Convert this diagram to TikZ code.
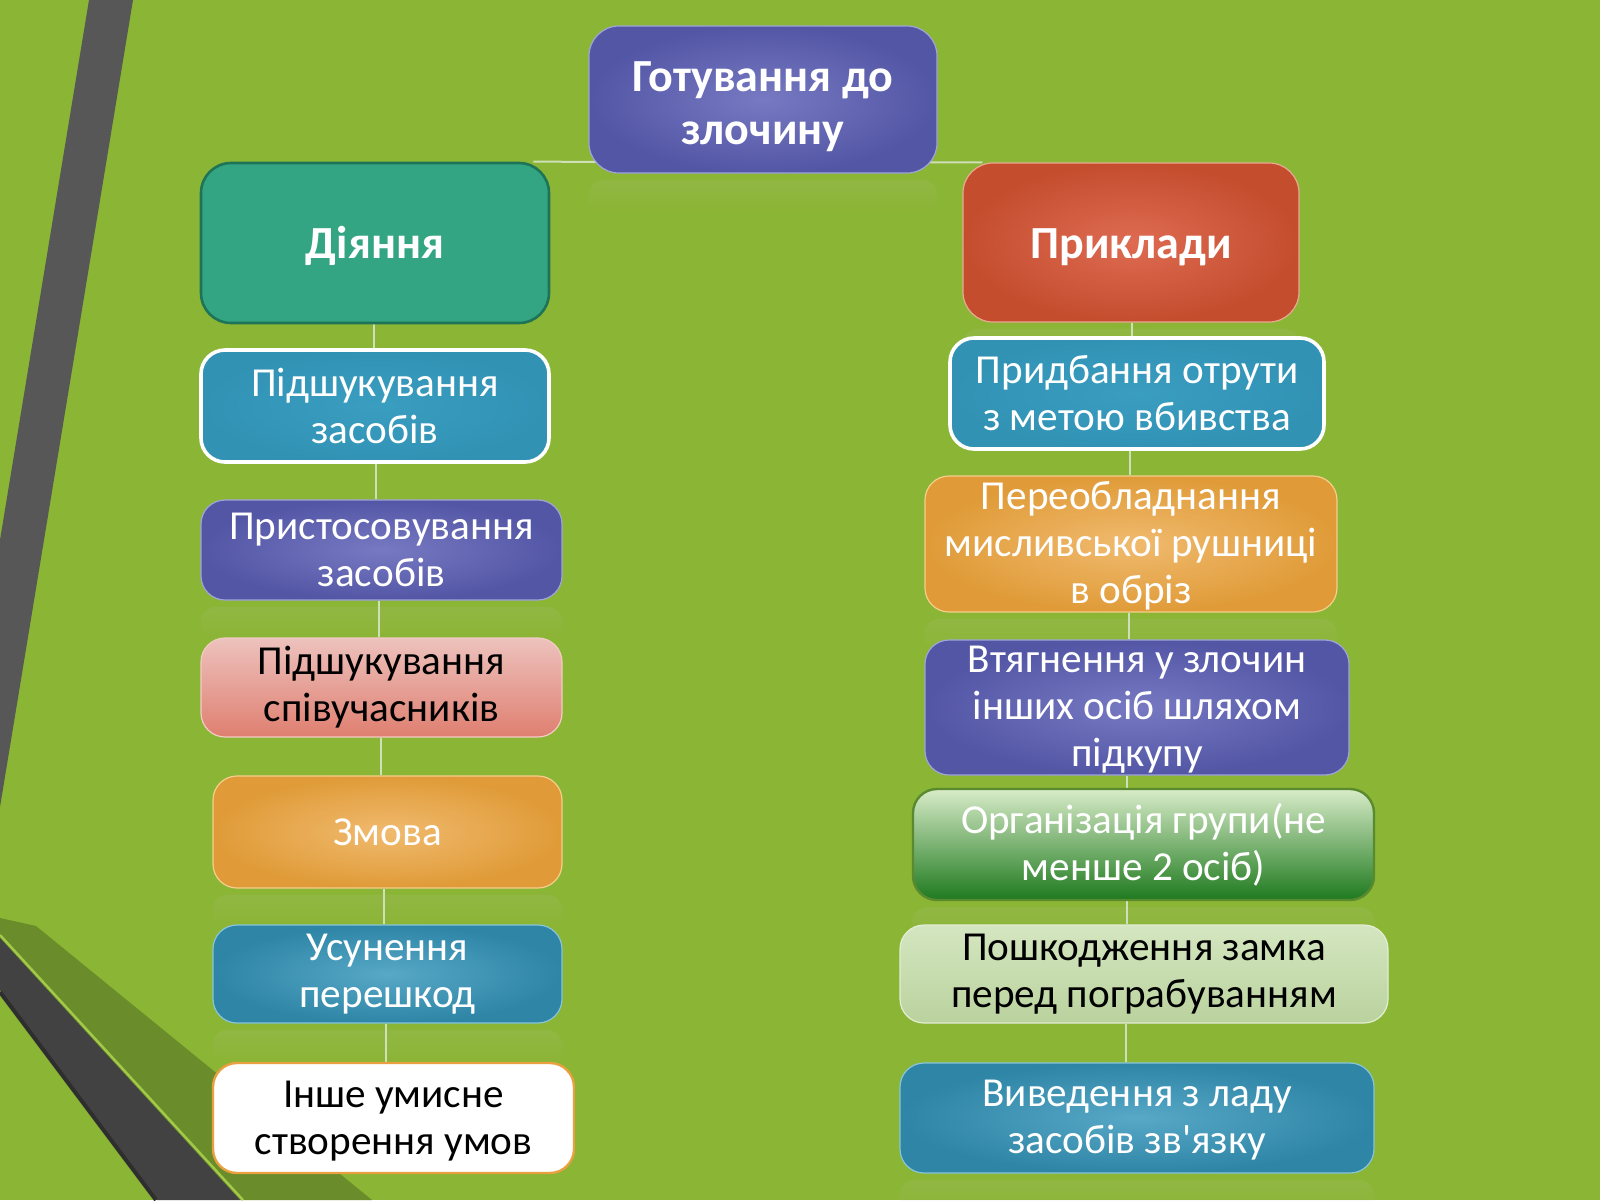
\documentclass[tikz,border=0pt]{standalone}
\usepackage{fontspec}
\setmainfont{Carlito}
\usetikzlibrary{backgrounds,fadings,calc}
\definecolor{bg}{HTML}{8BB534}
\definecolor{bandA}{HTML}{575757}
\definecolor{bandB}{HTML}{424242}
\definecolor{bandC}{HTML}{2E2E2E}
\definecolor{olive}{HTML}{6A8C2A}
\definecolor{oliveL}{HTML}{A2CA48}
\definecolor{connc}{HTML}{CFDFB8}
\definecolor{purpO}{HTML}{5356A5}
\definecolor{purpI}{HTML}{7779C2}
\definecolor{purpB}{HTML}{A0A4D8}
\definecolor{orO}{HTML}{E09B38}
\definecolor{orI}{HTML}{F0BA6E}
\definecolor{orB}{HTML}{F6CE8C}
\definecolor{blO}{HTML}{2E85A6}
\definecolor{blI}{HTML}{58A8C7}
\definecolor{blB}{HTML}{88C4DA}
\definecolor{cyO}{HTML}{3192B4}
\definecolor{cyI}{HTML}{3A9EC0}
\definecolor{redO}{HTML}{C44D2E}
\definecolor{redI}{HTML}{DE6B52}
\definecolor{redB}{HTML}{EAAA92}
\definecolor{teal}{HTML}{33A583}
\definecolor{tealB}{HTML}{1E7456}
\definecolor{pinkT}{HTML}{EDC2BD}
\definecolor{pinkB}{HTML}{DF7F70}
\definecolor{pinkE}{HTML}{F2CCC4}
\definecolor{grT}{HTML}{D8EBC8}
\definecolor{grM}{HTML}{7DB65C}
\definecolor{grB}{HTML}{1E7A1E}
\definecolor{grE}{HTML}{5A8A30}
\definecolor{lgT}{HTML}{D4E6C0}
\definecolor{lgB}{HTML}{BAD29E}
\definecolor{lgE}{HTML}{E2EDD4}
\definecolor{whE}{HTML}{E8A040}
\definecolor{reflc}{HTML}{B8C8A0}
\tikzset{
  box/.style={rounded corners=12pt, line width=0.6pt},
  bigbox/.style={rounded corners=15pt, line width=0.6pt},
  boxsz/.style 2 args={minimum width=#1*0.5pt, minimum height=#2*0.5pt, inner sep=0pt},
  txt/.style={align=center, text=white, font=\fontsize{20.6}{23.5}\selectfont, inner sep=0pt},
  txtdark/.style={txt, text=black},
  ttl/.style={align=center, text=white, font=\bfseries\fontsize{23}{26.5}\selectfont, inner sep=0pt},
  conn/.style={draw=connc, line width=1pt},
  purpbox/.style={shade, inner color=purpI, outer color=purpO, draw=purpB},
  orbox/.style={shade, inner color=orI, outer color=orO, draw=orB},
  blbox/.style={shade, inner color=blI, outer color=blO, draw=blB},
  cybox/.style={shade, inner color=cyI, outer color=cyO, draw=white, line width=1.8pt},
  refl/.style={fill opacity=0.14, path fading=south, rounded corners=8pt}
}
\begin{document}
\begin{tikzpicture}[x=0.5pt,y=-0.5pt]
\useasboundingbox (0,0) rectangle (1600,1200);
% top
\node[bigbox, purpbox, boxsz={348}{147}] (top) at (763,99.5) {};
\node[ttl] (top-t) at ([yshift=-3.5pt]top.center) {Готування до\\злочину};
\node[bigbox, fill=teal, draw=tealB, line width=1.3pt, boxsz={348}{160}] (d) at (375,243) {};
\node[ttl] (d-t) at ([yshift=-1.5pt]d.center) {Діяння};
\node[bigbox, shade, inner color=redI, outer color=redO, draw=redB, boxsz={336}{159}] (p) at (1131,242.5) {};
\node[ttl] (p-t) at ([yshift=-2.5pt]p.center) {Приклади};
% left column
\node[box, cybox, boxsz={348}{112}] (l1) at (375,406) {};
\node[txt] (l1-t) at (l1) {Підшукування\\засобів};
\node[box, purpbox, boxsz={361}{100}] (l2) at (381.5,550) {};
\node[txt] (l2-t) at (l2) {Пристосовування\\засобів};
\node[box, top color=pinkT, bottom color=pinkB, draw=pinkE, boxsz={361}{99}] (l3) at (381.5,687.5) {};
\node[txtdark] (l3-t) at (l3) {Підшукування\\співучасників};
\node[box, orbox, boxsz={349}{112}] (l4) at (387.5,832) {};
\node[txt] (l4-t) at (l4) {Змова};
\node[box, blbox, boxsz={349}{98}] (l5) at (387.5,974) {};
\node[txt] (l5-t) at (l5) {Усунення\\перешкод};
\node[box, fill=white, draw=whE, line width=1.2pt, boxsz={361}{110}] (l6) at (393.5,1118) {};
\node[txtdark] (l6-t) at ([yshift=-1.5pt]l6.center) {Інше умисне\\створення умов};
% right column
\node[box, cybox, boxsz={374}{111}] (r1) at (1137,393.5) {};
\node[txt] (r1-t) at (r1) {Придбання отрути\\з метою вбивства};
\node[box, orbox, boxsz={412}{136}] (r2) at (1131,544) {};
\node[txt] (r2-t) at ([yshift=-1pt]r2.center) {Переобладнання\\мисливської рушниці\\в обріз};
\node[box, purpbox, boxsz={424}{135}] (r3) at (1137,707.5) {};
\node[txt] (r3-t) at ([yshift=-1pt]r3.center) {Втягнення у злочин\\інших осіб шляхом\\підкупу};
\node[box, top color=grT, middle color=grM, bottom color=grB, draw=grE, line width=1.2pt, boxsz={461}{111}] (r4) at (1143.5,844.5) {};
\node[txt] (r4-t) at (r4) {Організація групи(не\\менше 2 осіб)};
\node[box, top color=lgT, bottom color=lgB, draw=lgE, boxsz={488}{98}] (r5) at (1144,974) {};
\node[txtdark] (r5-t) at (r5) {Пошкодження замка\\перед пограбуванням};
\node[box, blbox, boxsz={474}{110}] (r6) at (1137,1118) {};
\node[txt] (r6-t) at ([yshift=-1pt]r6.center) {Виведення з ладу\\засобів зв\textquotesingle язку};

\begin{scope}[on background layer]
  \fill[bg] (0,0) rectangle (1600,1200);
  % upper left band
  \fill[bandA] (89,0) -- (133,0) -- (0,807) -- (0,540) -- cycle;
  % lower left bands
  \fill[olive] (0,918) -- (36,926) -- (372,1200) -- (240,1200) -- (0,938) -- cycle;
  \fill[bandB] (0,938) -- (240,1200) -- (157,1200) -- (0,990) -- cycle;
  \draw[bandC, line width=2pt] (0,992) -- (156,1200);
  \draw[oliveL, line width=1.2pt] (0,935) -- (243,1200);
  % reflections
  \foreach \n/\c in {top/reflc, p/reflc, l2/reflc, l4/reflc, l5/reflc, r2/reflc, r4/reflc, r6/reflc}{
    \fill[\c, refl] ($(\n.south west)+(0,6)$) rectangle ($(\n.south east)+(0,44)$);
  }
  % connectors
  \draw[conn] ([xshift=-8.5pt]d.north east) -- ([xshift=10pt]p.north west);
  \draw[conn] (374,0 |- d.south) -- (374,0 |- l1.north);
  \draw[conn] (376,0 |- l1.south) -- (376,0 |- l2.north);
  \draw[conn] (379,0 |- l2.south) -- (379,0 |- l3.north);
  \draw[conn] (381,0 |- l3.south) -- (381,0 |- l4.north);
  \draw[conn] (384,0 |- l4.south) -- (384,0 |- l5.north);
  \draw[conn] (386,0 |- l5.south) -- (386,0 |- l6.north);
  \draw[conn] (1132,0 |- p.south) -- (1132,0 |- r1.north);
  \draw[conn] (1130,0 |- r1.south) -- (1130,0 |- r2.north);
  \draw[conn] (1129,0 |- r2.south) -- (1129,0 |- r3.north);
  \draw[conn] (1127,0 |- r3.south) -- (1127,0 |- r4.north);
  \draw[conn] (1127,0 |- r4.south) -- (1127,0 |- r5.north);
  \draw[conn] (1126,0 |- r5.south) -- (1126,0 |- r6.north);
\end{scope}
\end{tikzpicture}
\end{document}
